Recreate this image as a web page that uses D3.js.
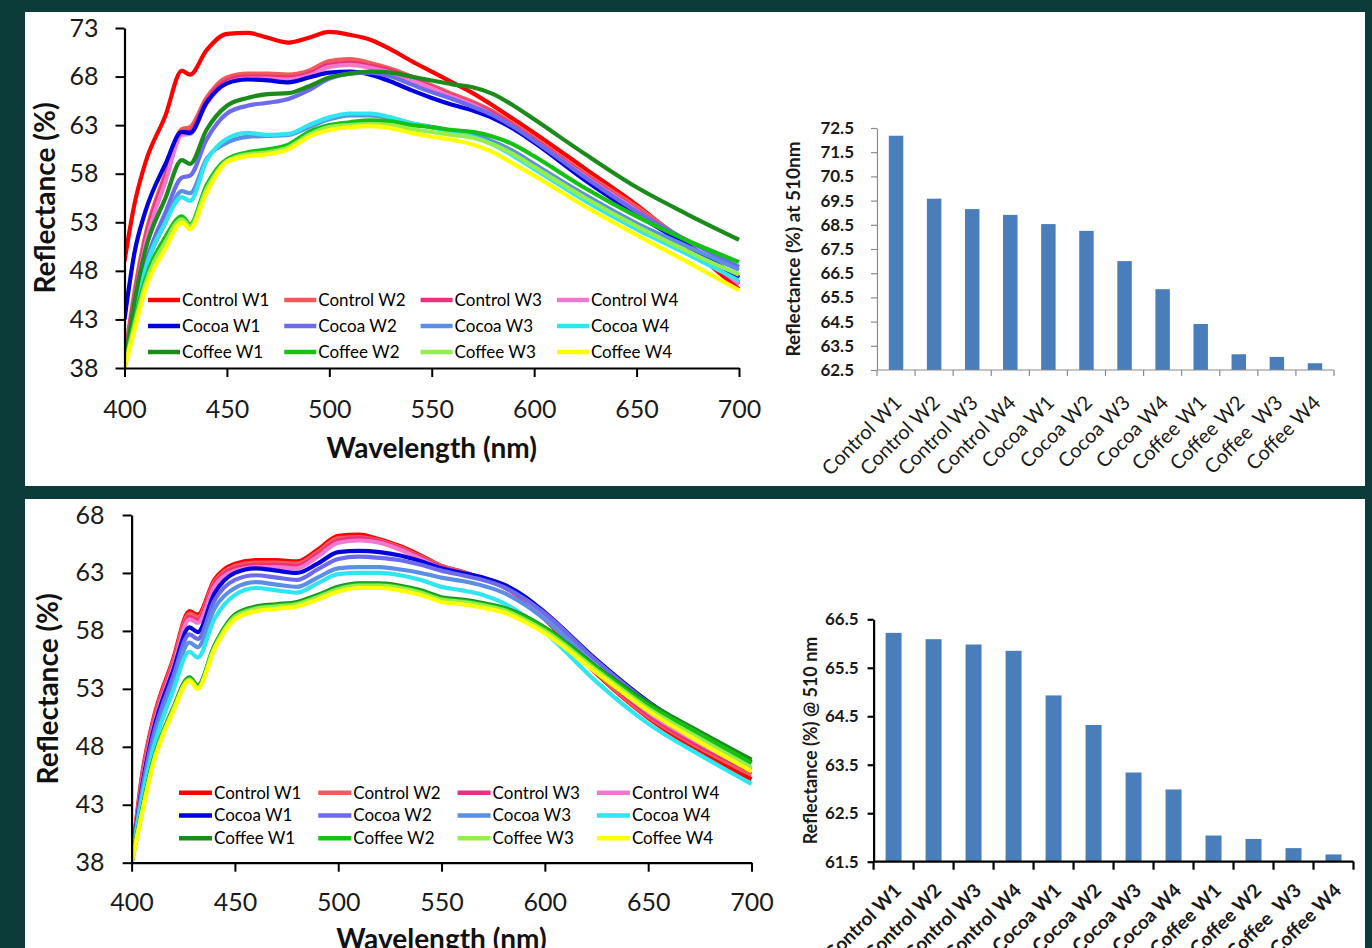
<!DOCTYPE html>
<html><head><meta charset="utf-8">
<script src="https://cdn.jsdelivr.net/npm/d3@7"></script>
<style>body{margin:0;background:#0b3c39;} svg{display:block}</style>
</head><body><svg id="c" width="1372" height="948"></svg>
<script>
// ---------------- DATA ----------------
const wavelengths = [400,405,410,420,428,432,440,450,460,470,480,490,500,510,520,530,540,550,560,570,580,590,600,625,650,675,700];
const seriesNames = ["Control W1","Control W2","Control W3","Control W4","Cocoa W1","Cocoa W2","Cocoa W3","Cocoa W4","Coffee W1","Coffee W2","Coffee W3","Coffee W4"];
const seriesColors = ["#ff0000","#f05a5a","#ec2f7e","#f277cf","#0000dc","#6b6bec","#5b8fe6","#2fe6f0","#1b8c1b","#14c214","#93ee4e","#ffff00"];

// Top panel spectra (Reflectance %)
const topControlW1 = [49,55,59,64,68.6,68.2,70.7,72.4,72.5,72.0,71.5,72.0,72.6,72.3,71.8,70.8,69.6,68.5,67.4,66.3,65.0,63.6,62.2,58.5,54.8,50.5,46.1];
const topControlW2 = [39,46,51.5,58,62.6,62.8,65.8,67.9,68.3,68.3,68.2,68.6,69.6,69.8,69.4,68.8,68.0,67.1,66.2,65.4,64.4,63.1,61.7,58.0,54.6,50.8,46.8];
const topControlW3 = [38.5,45.5,51,57.6,62.3,62.4,65.5,67.6,68.0,68.0,67.9,68.3,69.2,69.4,69.1,68.6,67.8,66.9,66.0,65.2,64.2,62.9,61.5,57.8,54.3,50.6,46.6];
const topControlW4 = [38.2,45,50.5,57.2,62.0,62.1,65.2,67.3,67.8,67.8,67.7,68.1,69.0,69.2,68.9,68.4,67.6,66.8,65.9,65.1,64.0,62.8,61.4,57.7,54.2,50.6,46.7];
const topCocoaW1 = [43,50,54,59,62.3,62.2,65.3,67.3,67.7,67.6,67.4,67.9,68.4,68.5,68.2,67.5,66.6,65.8,65.1,64.5,63.7,62.6,61.2,57.3,53.8,50.6,47.3];
const topCocoaW2 = [38,44,48.5,54,57.6,57.8,61.5,64.2,65.0,65.3,65.7,66.6,67.8,68.3,68.4,68.0,67.2,66.4,65.7,64.9,64.0,62.8,61.4,57.6,54.1,51.1,48.4];
const topCocoaW3 = [38,43.5,48,53,56.2,56.0,59.5,61.2,61.8,61.9,62.0,62.8,63.6,64.0,64.0,63.7,63.2,62.8,62.4,62.0,61.3,60.3,59.0,55.8,52.9,50.5,48.1];
const topCocoaW4 = [38,43.5,48,53,55.6,55.2,59.3,61.6,62.2,62.0,62.1,63.0,63.8,64.2,64.2,63.8,63.2,62.8,62.3,61.8,61.0,59.8,58.5,55.2,52.3,49.7,47.0];
const topCoffeeW1 = [38,45,50,55.5,59.4,59.0,62.5,65.0,65.8,66.2,66.3,67.0,67.9,68.3,68.5,68.4,68.0,67.6,67.2,66.9,66.2,65.0,63.6,60.0,56.6,53.8,51.2];
const topCoffeeW2 = [38,43,47,51.5,53.6,52.8,56.8,59.5,60.2,60.5,61.0,62.3,63.0,63.3,63.5,63.4,63.0,62.8,62.5,62.3,61.8,61.0,59.8,56.5,53.6,51.1,48.9];
const topCoffeeW3 = [38,42.5,46.5,51,53.3,52.6,56.4,59.3,60.0,60.2,60.7,62.0,62.8,63.0,63.1,63.0,62.6,62.3,62.0,61.7,61.0,60.0,58.7,55.5,52.6,50.0,47.6];
const topCoffeeW4 = [38,42,46,50.3,53.0,52.3,56.0,59.2,59.8,60.0,60.5,61.8,62.5,62.8,62.9,62.7,62.2,61.8,61.5,61.0,60.2,59.0,57.8,54.6,51.7,48.9,46.0];

// Bottom panel spectra (Reflectance %)
const botControlW1 = [38,45.5,50,55.5,59.7,59.4,62.4,63.8,64.1,64.1,64.0,65.0,66.2,66.3,65.9,65.3,64.5,63.6,63.1,62.5,61.8,60.6,59.0,54.3,50.5,47.6,45.2];
const botControlW2 = [38,45.3,49.8,55.3,59.5,59.2,62.2,63.6,63.9,63.9,63.8,64.8,66.0,66.1,65.8,65.2,64.4,63.6,63.1,62.5,61.8,60.7,59.1,54.4,50.6,47.9,45.6];
const botControlW3 = [38,45,49.5,55,59.2,58.9,62.0,63.4,63.7,63.7,63.6,64.6,65.8,66.0,65.7,65.1,64.3,63.5,63.0,62.5,61.8,60.7,59.2,54.6,50.8,48.1,45.9];
const botControlW4 = [38,44.8,49.3,54.8,59.0,58.7,61.8,63.2,63.5,63.5,63.4,64.4,65.6,65.8,65.6,65.0,64.2,63.4,63.0,62.5,61.8,60.8,59.3,54.8,51.0,48.3,46.1];
const botCocoaW1 = [38,44.5,49,54.5,58.3,57.9,61.2,63.0,63.4,63.2,63.0,63.8,64.8,64.9,64.8,64.5,64.0,63.4,63.0,62.6,62.0,61.0,59.6,55.5,51.9,49.1,46.7];
const botCocoaW2 = [38,44.2,48.6,54.0,57.7,57.3,60.6,62.4,62.8,62.6,62.4,63.3,64.2,64.4,64.3,64.1,63.7,63.2,62.8,62.4,61.8,60.8,59.5,55.4,51.8,49.0,46.6];
const botCocoaW3 = [38,43.8,48,53.4,57.0,56.6,59.9,61.7,62.2,62.0,61.8,62.6,63.4,63.5,63.5,63.3,63.0,62.6,62.3,61.9,61.3,60.3,59.0,54.9,51.3,48.4,46.0];
const botCocoaW4 = [38,43.5,47.5,52.8,56.2,55.7,59.0,61.1,61.7,61.5,61.3,62.1,62.9,63.0,63.0,62.8,62.4,61.8,61.5,61.1,60.4,59.3,57.9,53.6,50.0,47.3,44.8];
const botCoffeeW1 = [38,42.5,46.5,51.3,54.0,53.3,56.7,59.4,60.1,60.3,60.5,61.1,61.8,62.1,62.1,61.9,61.5,60.9,60.7,60.4,60.0,59.3,58.3,54.9,51.8,49.3,46.9];
const botCoffeeW2 = [38,42.4,46.4,51.2,53.9,53.2,56.6,59.3,60.0,60.2,60.4,61.0,61.7,62.0,62.0,61.8,61.4,60.8,60.6,60.3,59.9,59.2,58.2,54.8,51.6,49.1,46.6];
const botCoffeeW3 = [38,42.3,46.3,51.1,53.8,53.1,56.5,59.2,59.9,60.1,60.3,60.9,61.6,61.9,61.9,61.7,61.3,60.7,60.5,60.2,59.8,59.0,58.0,54.6,51.3,48.7,46.2];
const botCoffeeW4 = [38,42.2,46.2,51.0,53.7,53.0,56.4,59.0,59.7,59.9,60.1,60.7,61.4,61.7,61.7,61.5,61.1,60.5,60.3,60.0,59.6,58.8,57.8,54.4,51.1,48.4,45.9];

// Bar charts: reflectance at 510 nm
const barCategories = ["Control W1","Control W2","Control W3","Control W4","Cocoa W1","Cocoa W2","Cocoa W3","Cocoa W4","Coffee W1","Coffee W2","Coffee  W3","Coffee W4"];
const topBarValues = [72.18,69.58,69.15,68.91,68.53,68.25,67.0,65.84,64.4,63.15,63.04,62.78];
const bottomBarValues = [66.22,66.09,65.98,65.85,64.93,64.32,63.34,62.99,62.04,61.97,61.78,61.65];

// Tick labels
const xTicksLine = [400,450,500,550,600,650,700];
const yTicksTopLine = [38,43,48,53,58,63,68,73];
const yTicksBottomLine = [38,43,48,53,58,63,68];
const yTicksTopBar = ["62.5","63.5","64.5","65.5","66.5","67.5","68.5","69.5","70.5","71.5","72.5"];
const yTicksBottomBar = ["61.5","62.5","63.5","64.5","65.5","66.5"];

const topSeries = [topControlW1,topControlW2,topControlW3,topControlW4,topCocoaW1,topCocoaW2,topCocoaW3,topCocoaW4,topCoffeeW1,topCoffeeW2,topCoffeeW3,topCoffeeW4];
const botSeries = [botControlW1,botControlW2,botControlW3,botControlW4,botCocoaW1,botCocoaW2,botCocoaW3,botCocoaW4,botCoffeeW1,botCoffeeW2,botCoffeeW3,botCoffeeW4];

// ---------------- DRAWING ----------------
const FONT = "Lato, 'Open Sans', sans-serif";
const svg = d3.select("#c");
svg.append("rect").attr("width",1372).attr("height",948).attr("fill","#0b3c39");
svg.append("rect").attr("x",25).attr("y",12).attr("width",1340).attr("height",474).attr("fill","#fff");
svg.append("rect").attr("x",25).attr("y",499).attr("width",1340).attr("height",449).attr("fill","#fff");

function lineChart(c) {
  const g = svg.append("g");
  const x = d3.scaleLinear().domain([400,700]).range([c.x0,c.x1]);
  const y = d3.scaleLinear().domain([c.yTicks[0], c.yTicks[c.yTicks.length-1]]).range([c.yB,c.yT]);
  const clipId = "clip" + c.id;
  svg.append("clipPath").attr("id",clipId).append("rect")
    .attr("x",c.x0).attr("y",c.yT-10).attr("width",c.x1-c.x0+10).attr("height",c.yB-c.yT+10);
  const line = d3.line().x((d,i)=>x(wavelengths[i])).y(d=>y(d)).curve(d3.curveMonotoneX);
  g.append("g").attr("clip-path",`url(#${clipId})`).selectAll("path").data(c.series).join("path")
    .attr("d",line).attr("fill","none").attr("stroke",(d,i)=>seriesColors[i])
    .attr("stroke-width",4.2).attr("stroke-linejoin","round");

  const ax = g.append("g").attr("transform",`translate(0,${c.yB})`)
    .call(d3.axisBottom(x).tickValues(xTicksLine).tickSize(9).tickPadding(c.xPad).tickSizeOuter(0));
  const ay = g.append("g").attr("transform",`translate(${c.x0},0)`)
    .call(d3.axisLeft(y).tickValues(c.yTicks).tickSize(9).tickPadding(c.yPad).tickSizeOuter(0));
  [ax,ay].forEach(a=>{
    a.select(".domain").attr("stroke","#000").attr("stroke-width",2.2);
    a.selectAll(".tick line").attr("stroke","#000").attr("stroke-width",2);
    a.selectAll("text").attr("font-family",FONT).attr("font-size",25).attr("fill","#1a1a1a");
  });
  // legend
  const lg = g.append("g");
  c.series.forEach((s,i)=>{
    const col = i%4, row = Math.floor(i/4);
    const lx = c.legX + col*c.legDx, ly = c.legY + row*c.legDy;
    lg.append("line").attr("x1",lx).attr("x2",lx+c.legLen).attr("y1",ly).attr("y2",ly)
      .attr("stroke",seriesColors[i]).attr("stroke-width",4.5);
    lg.append("text").attr("x",lx+c.legLen+2).attr("y",ly).attr("dy","0.35em")
      .attr("font-family",FONT).attr("font-size",17).attr("fill","#000").text(seriesNames[i]);
  });
  g.append("text").attr("transform",`translate(${c.yTitleX},${(c.yT+c.yB)/2}) rotate(-90)`)
    .attr("text-anchor","middle").attr("font-family",FONT).attr("font-weight","bold")
    .attr("font-size",28).attr("fill","#111").text("Reflectance (%)");
  g.append("text").attr("x",(c.x0+c.x1)/2).attr("y",c.xTitleY)
    .attr("text-anchor","middle").attr("font-family",FONT).attr("font-weight","bold")
    .attr("font-size",28).attr("fill","#111").text("Wavelength (nm)");
}

function barChart(c) {
  const g = svg.append("g");
  const x = d3.scaleBand().domain(barCategories).range([c.x0,c.x1]).paddingInner(c.pad).paddingOuter(c.pad/2);
  const y = d3.scaleLinear().domain([+c.yTicks[0], +c.yTicks[c.yTicks.length-1]]).range([c.yB,c.yT]);
  g.selectAll("rect").data(c.values).join("rect")
    .attr("x",(d,i)=>x(barCategories[i])).attr("width",x.bandwidth())
    .attr("y",d=>y(d)).attr("height",d=>c.yB-y(d)).attr("fill","#4a7ebb");
  const ay = g.append("g").attr("transform",`translate(${c.x0},0)`)
    .call(d3.axisLeft(y).tickValues(c.yTicks.map(Number)).tickFormat(d3.format(".1f"))
      .tickSize(6).tickPadding(c.yPad).tickSizeOuter(0));
  ay.select(".domain").attr("stroke",c.axisColor).attr("stroke-width",c.axisW);
  ay.selectAll(".tick line").attr("stroke",c.axisColor).attr("stroke-width",c.axisW);
  ay.selectAll("text").attr("font-family",FONT).attr("font-weight","bold").attr("font-size",c.yFont).attr("fill","#1a1a1a");
  // x axis line + boundary ticks
  g.append("line").attr("x1",c.x0).attr("x2",c.x1).attr("y1",c.yB).attr("y2",c.yB)
    .attr("stroke",c.axisColor).attr("stroke-width",c.axisW);
  const step = x.step();
  d3.range(barCategories.length+1).forEach(i=>{
    const bx = c.x0 + i*step;
    g.append("line").attr("x1",bx).attr("x2",bx).attr("y1",c.yB).attr("y2",c.yB+c.xTick)
      .attr("stroke",c.axisColor).attr("stroke-width",c.axisW);
  });
  barCategories.forEach(cat=>{
    const cx = x(cat) + x.bandwidth()/2;
    g.append("text").attr("transform",`translate(${cx+c.lblDx},${c.yB+c.lblDy}) rotate(-45)`)
      .attr("text-anchor","end").attr("font-family",FONT).attr("font-weight",c.xBold?"bold":"normal")
      .attr("font-size",c.xFont).attr("fill","#1a1a1a").attr("xml:space","preserve").text(cat);
  });
  g.append("text").attr("transform",`translate(${c.titleX},${(c.yT+c.yB)/2}) rotate(-90)`)
    .attr("text-anchor","middle").attr("font-family",FONT).attr("font-weight","bold")
    .attr("font-size",c.titleFont).attr("fill","#1a1a1a").text(c.title);
}

lineChart({id:"t", x0:124.5, x1:739, yT:28, yB:368, yTicks:yTicksTopLine, series:topSeries,
  xPad:23, yPad:17, legX:148, legY:300, legDx:136.3, legDy:26, legLen:32, yTitleX:55, xTitleY:458});
lineChart({id:"b", x0:131.6, x1:751.5, yT:515, yB:862.7, yTicks:yTicksBottomLine, series:botSeries,
  xPad:22, yPad:18, legX:179, legY:792.7, legDx:139.3, legDy:22.8, legLen:33, yTitleX:58, xTitleY:949});

barChart({x0:877, x1:1334, yT:128, yB:370, yTicks:yTicksTopBar, values:topBarValues, pad:0.62,
  axisColor:"#8a8a8a", axisW:1.2, yPad:17, yFont:17, xTick:6, lblDx:7, lblDy:34, xFont:20, xBold:false,
  titleX:800, titleFont:19, title:"Reflectance (%) at 510nm"});
barChart({x0:873.6, x1:1353.5, yT:619.3, yB:861.7, yTicks:yTicksBottomBar, values:bottomBarValues, pad:0.6,
  axisColor:"#000", axisW:2.2, yPad:9, yFont:17, xTick:8, lblDx:9, lblDy:30, xFont:19, xBold:true,
  titleX:817, titleFont:18, title:"Reflectance (%) @ 510 nm"});
</script></body></html>
